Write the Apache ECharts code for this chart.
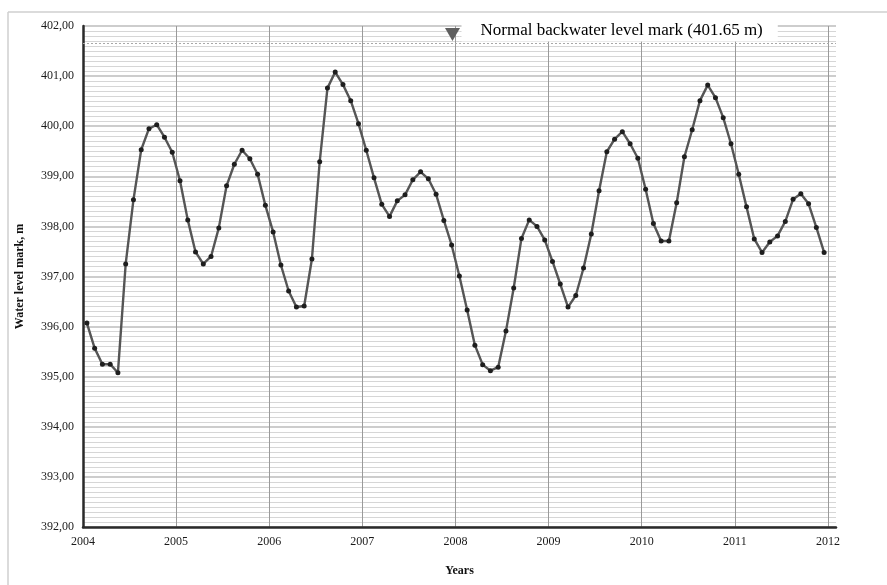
<!DOCTYPE html>
<html>
<head>
<meta charset="utf-8">
<script src="https://cdn.jsdelivr.net/npm/echarts@6/dist/echarts.min.js"></script>
<style>
html,body{margin:0;padding:0;background:#fff;}
#chart{width:887px;height:585px;}
</style>
</head>
<body>
<div id="chart"></div>
<script>
// Monthly water level marks, m (Jan..Dec of each year)
var level2004 = [396.07, 395.57, 395.25, 395.25, 395.08, 397.25, 398.53, 399.53, 399.95, 400.03, 399.78, 399.48];
var level2005 = [398.91, 398.13, 397.49, 397.25, 397.40, 397.97, 398.81, 399.24, 399.52, 399.35, 399.04, 398.42];
var level2006 = [397.89, 397.23, 396.71, 396.39, 396.41, 397.35, 399.29, 400.76, 401.08, 400.83, 400.51, 400.05];
var level2007 = [399.52, 398.97, 398.44, 398.20, 398.51, 398.63, 398.93, 399.09, 398.95, 398.64, 398.12, 397.63];
var level2008 = [397.01, 396.33, 395.63, 395.24, 395.12, 395.19, 395.91, 396.77, 397.76, 398.13, 398.00, 397.73];
var level2009 = [397.30, 396.85, 396.39, 396.62, 397.17, 397.85, 398.71, 399.49, 399.74, 399.89, 399.65, 399.36];
var level2010 = [398.74, 398.06, 397.71, 397.71, 398.47, 399.39, 399.93, 400.51, 400.82, 400.57, 400.17, 399.65];
var level2011 = [399.04, 398.39, 397.75, 397.48, 397.69, 397.81, 398.10, 398.54, 398.65, 398.45, 397.98, 397.48];
var years = [2004, 2005, 2006, 2007, 2008, 2009, 2010, 2011];
var yearLevels = [level2004, level2005, level2006, level2007, level2008, level2009, level2010, level2011];

var normalLevel = 401.65;
var normalLevelYear = 2008;
var normalLevelText = 'Normal backwater level mark (401.65 m)';
var yAxisTitle = 'Water level mark, m';
var xAxisTitle = 'Years';

// build [time, value] pairs: samples taken mid-month
var seriesData = [];
years.forEach(function (yr, k) {
  yearLevels[k].forEach(function (v, m) {
    seriesData.push([yr + (m + 0.5) / 12, v]);
  });
});

var serif = '"Liberation Serif", "DejaVu Serif", serif';
var chart = echarts.init(document.getElementById('chart'));
chart.setOption({
  animation: false,
  backgroundColor: '#fff',
  grid: { left: 83, right: 51, top: 26, bottom: 58, containLabel: false },
  graphic: [
    { type: 'line', shape: { x1: 8, y1: 12, x2: 887, y2: 12 }, style: { stroke: '#cfcfcf', lineWidth: 1.5 }, silent: true },
    { type: 'line', shape: { x1: 8, y1: 12, x2: 8, y2: 585 }, style: { stroke: '#cfcfcf', lineWidth: 1.5 }, silent: true }
  ],
  xAxis: {
    type: 'value',
    min: 2004,
    max: 2012.086,
    interval: 1,
    name: xAxisTitle,
    nameLocation: 'middle',
    nameGap: 38,
    nameTextStyle: { fontFamily: serif, fontWeight: 'bold', fontSize: 12, color: '#111' },
    axisLine: { show: true, onZero: false, lineStyle: { color: '#2a2a2a', width: 2.5 } },
    axisTick: { show: false },
    axisLabel: {
      fontFamily: serif, fontSize: 12, color: '#1a1a1a', margin: 9,
      showMaxLabel: false,
      formatter: function (v) { return Math.abs(v - Math.round(v)) < 1e-6 ? String(Math.round(v)) : ''; }
    },
    splitLine: { show: true, showMinLine: false, showMaxLine: false, lineStyle: { color: '#9a9a9a', width: 1 } }
  },
  yAxis: {
    type: 'value',
    min: 392,
    max: 402,
    interval: 1,
    name: yAxisTitle,
    nameLocation: 'middle',
    nameGap: 57,
    nameRotate: 90,
    nameTextStyle: { fontFamily: serif, fontWeight: 'bold', fontSize: 12, color: '#111' },
    axisLine: { show: true, lineStyle: { color: '#2a2a2a', width: 2.5 } },
    axisTick: { show: false },
    axisLabel: {
      fontFamily: serif, fontSize: 12, color: '#1a1a1a', margin: 9,
      formatter: function (v) { return v.toFixed(2).replace('.', ','); }
    },
    splitLine: { show: true, lineStyle: { color: '#bdbdbd', width: 1.6 } },
    minorTick: { show: false, splitNumber: 10 },
    minorSplitLine: { show: true, lineStyle: { color: '#d6d6d6', width: 1 } }
  },
  series: [
    {
      type: 'line',
      data: seriesData,
      symbol: 'circle',
      symbolSize: 5,
      showAllSymbol: true,
      lineStyle: { color: '#555', width: 2.4 },
      itemStyle: { color: '#1e1e1e' },
      z: 5,
      markLine: {
        silent: true,
        symbol: 'none',
        label: { show: false },
        lineStyle: { color: '#a8a8a8', type: [2, 2], width: 1 },
        data: [{ yAxis: normalLevel }]
      }
    },
    {
      type: 'scatter',
      data: [[normalLevelYear, normalLevel]],
      symbol: 'triangle',
      symbolRotate: 180,
      symbolSize: [15, 13],
      symbolOffset: [-3, -9],
      itemStyle: { color: '#5f5f5f', opacity: 1 },
      z: 6
    },
    {
      type: 'scatter',
      data: [[normalLevelYear, normalLevel]],
      symbolSize: 0,
      z: 7,
      label: {
        show: true,
        position: 'right',
        distance: 0,
        offset: [6, -13],
        formatter: normalLevelText,
        fontFamily: serif,
        fontSize: 17,
        color: '#000',
        opacity: 1,
        backgroundColor: '#fff',
        padding: [3, 15, 2, 19]
      }
    }
  ]
});
</script>
</body>
</html>
